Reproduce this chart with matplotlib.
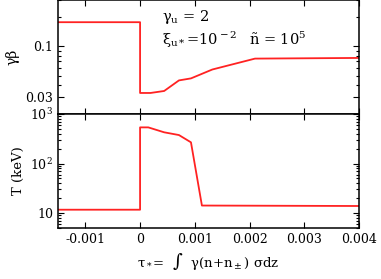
import matplotlib
matplotlib.use('Agg')
import matplotlib.pyplot as plt
from matplotlib import ticker

plt.rcParams['font.family'] = 'DejaVu Serif'
plt.rcParams['mathtext.fontset'] = 'dejavuserif'
plt.rcParams['font.size'] = 9

# gamma*beta profile
tau_gb = [-0.0015, 0.0, 0.0, 0.00019, 0.00044, 0.00071, 0.00093, 0.00132, 0.0021, 0.004]
gb = [0.178, 0.178, 0.033, 0.033, 0.0346, 0.0445, 0.0467, 0.0577, 0.0748, 0.076]

# temperature profile
tau_T = [-0.0015, 0.0, 0.0, 0.00015, 0.00044, 0.00071, 0.00093, 0.00113, 0.004]
T_keV = [11.7, 11.7, 537, 537, 427, 376, 268, 14.2, 13.9]

xticks = [-0.001, 0, 0.001, 0.002, 0.003, 0.004]
xticklabels = ['-0.001', '0', '0.001', '0.002', '0.003', '0.004']

red = '#ff2222'

fig = plt.figure(figsize=(3.81, 2.79), dpi=100)
ax1 = fig.add_axes([0.1522, 0.5914, 0.790, 0.4076])
ax2 = fig.add_axes([0.1522, 0.1828, 0.790, 0.4086])

ax1.plot(tau_gb, gb, color=red, lw=1.3)
ax2.plot(tau_T, T_keV, color=red, lw=1.3)

for ax in (ax1, ax2):
    ax.set_xlim(-0.0015, 0.004)
    ax.set_yscale('log')
    ax.xaxis.set_major_locator(ticker.FixedLocator(xticks))
    ax.xaxis.set_minor_locator(ticker.NullLocator())
    ax.tick_params(which='both', direction='in', top=True, right=True, width=0.8)
    ax.tick_params(which='major', length=4.5)
    ax.tick_params(which='minor', length=2.2)
    for s in ax.spines.values():
        s.set_linewidth(1.1)

ax1.set_ylim(0.02, 0.3)
ax1.yaxis.set_major_locator(ticker.FixedLocator([0.03, 0.1]))
ax1.yaxis.set_major_formatter(ticker.FixedFormatter(['0.03', '0.1']))
ax1.yaxis.set_minor_locator(ticker.LogLocator(base=10, subs=range(2, 10)))
ax1.yaxis.set_minor_formatter(ticker.NullFormatter())
ax1.set_xticklabels([])
ax1.set_ylabel('γβ', fontsize=10)

ax2.set_ylim(5, 1000)
ax2.yaxis.set_major_locator(ticker.FixedLocator([10, 100, 1000]))
ax2.yaxis.set_major_formatter(ticker.FixedFormatter(['10', r'10$^2$', r'10$^3$']))
ax2.yaxis.set_minor_locator(ticker.LogLocator(base=10, subs=range(2, 10)))
ax2.yaxis.set_minor_formatter(ticker.NullFormatter())
ax2.set_xticklabels(xticklabels)
ax2.set_ylabel('T (keV)', fontsize=9.5)
ax2.set_xlabel(r'τ$_*$=  ∫  γ(n+n$_\pm$) σdz', fontsize=9.5)

ax1.text(0.345, 0.82, r'γ$_{\rm u}$ = 2', transform=ax1.transAxes, fontsize=10.5)
ax1.text(0.345, 0.61, r'ξ$_{\rm u*}$=10$^{\rm -2}$', transform=ax1.transAxes, fontsize=10.5)
ax1.text(0.635, 0.61, r'ñ = 10$^5$', transform=ax1.transAxes, fontsize=10.5)

fig.savefig('out.png', dpi=100)
